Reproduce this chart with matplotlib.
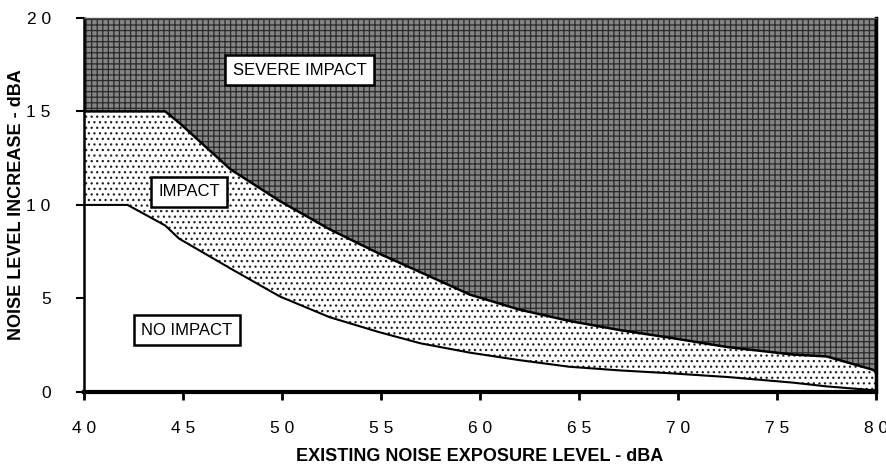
import numpy as np
import matplotlib
matplotlib.use("Agg")
import matplotlib.pyplot as plt

plt.rcParams['font.family'] = ['Liberation Sans', 'DejaVu Sans']
plt.rcParams['hatch.linewidth'] = 0.9

# existing noise exposure (dBA) and allowed increase curves
existing = [40, 42.2, 44.1, 44.8, 47.4, 49.9, 52.4, 54.9, 57.0, 59.5, 62.0, 64.5,
            67.1, 69.6, 72.5, 75.8, 77.5, 79.8, 80]
impact = [10, 10, 8.9, 8.2, 6.6, 5.1, 4.0, 3.2, 2.6, 2.1, 1.7, 1.35,
          1.15, 1.0, 0.8, 0.5, 0.3, 0.1, 0.1]
severe = [15, 15, 15, 14.4, 11.9, 10.2, 8.7, 7.4, 6.4, 5.2, 4.4, 3.8,
          3.3, 2.9, 2.4, 2.0, 1.9, 1.2, 1.1]

xticks = [40, 45, 50, 55, 60, 65, 70, 75, 80]
xlabels = ["4 0", "4 5", "5 0", "5 5", "6 0", "6 5", "7 0", "7 5", "8 0"]
yticks = [0, 5, 10, 15, 20]
ylabels = ["0", "5", "1 0", "1 5", "2 0"]

fig = plt.figure(figsize=(8.87, 4.70), dpi=100)
ax = fig.add_axes([0.0947, 0.166, 0.893, 0.796])

x = np.array(existing)
lo = np.array(impact)
hi = np.array(severe)

# severe impact zone
ax.fill_between(x, hi, 20, facecolor="#858585", edgecolor="#2a2a2a", hatch="+++", linewidth=0)
# impact zone
ax.fill_between(x, lo, hi, facecolor="white", edgecolor="#222222", hatch="...", linewidth=0)
ax.plot(x, hi, color="black", lw=1.8)
ax.plot(x, lo, color="black", lw=1.5)

box = dict(boxstyle="square,pad=0.45", facecolor="white", edgecolor="black", linewidth=1.8)
ax.text(50.9, 17.2, "SEVERE IMPACT", ha="center", va="center", fontsize=12, bbox=box)
ax.text(45.3, 10.7, "IMPACT", ha="center", va="center", fontsize=12, bbox=box)
ax.text(45.2, 3.3, "NO IMPACT", ha="center", va="center", fontsize=12, bbox=box)

ax.set_xlim(40, 80)
ax.set_ylim(0, 20)
ax.set_xticks(xticks)
ax.set_xticklabels(xlabels, fontsize=12.5)
ax.set_yticks(yticks)
ax.set_yticklabels(ylabels, fontsize=12.5)
ax.tick_params(axis="x", direction="out", length=6, width=2, pad=15)
ax.tick_params(axis="y", direction="out", length=6, width=1.5, pad=18)

ax.spines["bottom"].set_linewidth(3)
ax.spines["left"].set_linewidth(1.8)
ax.spines["right"].set_linewidth(2.5)
ax.spines["top"].set_linewidth(1)
ax.spines["top"].set_color("#555555")

ax.set_xlabel("EXISTING NOISE EXPOSURE LEVEL - dBA", fontsize=13, fontweight="bold")
ax.set_ylabel("NOISE LEVEL INCREASE - dBA", fontsize=13, fontweight="bold")
ax.xaxis.set_label_coords(0.5, -0.15)
ax.yaxis.set_label_coords(-0.074, 0.5)

fig.savefig("out.png", dpi=100)
